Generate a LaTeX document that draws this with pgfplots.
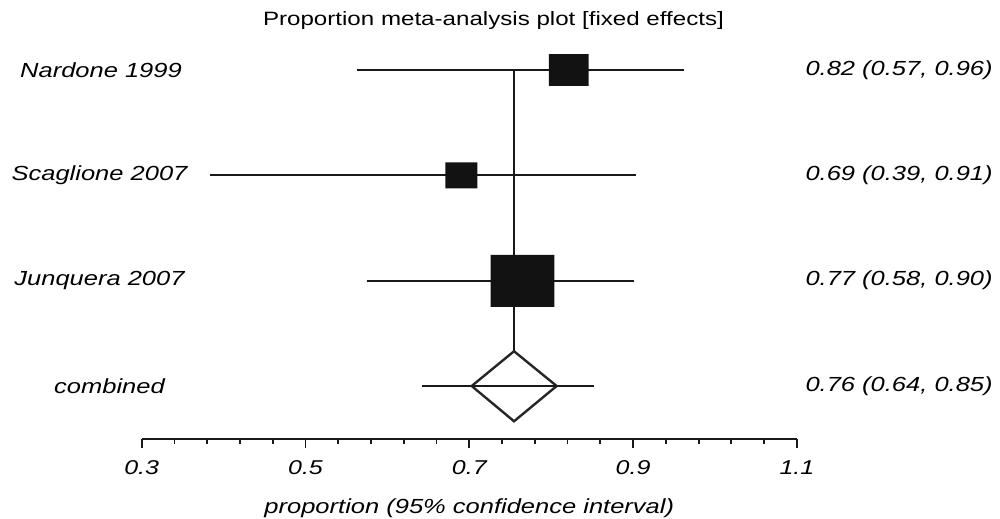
\documentclass[border=0pt]{standalone}
\usepackage{pgfplots}
\pgfplotsset{compat=1.18}
\usepackage{fontspec}
\setmainfont{Liberation Sans}[FakeStretch=1.25]
\begin{document}
\begin{tikzpicture}
\begin{axis}[
  scale only axis,
  width=327.6pt, height=210.65pt,
  xmin=0.3, xmax=1.1, ymin=0.5, ymax=4.5,
  axis x line=bottom, hide y axis,
  axis line style={-, line width=0.9pt, black!90},
  x axis line style={-},
  xtick={0.3,0.5,0.7,0.9,1.1},
  minor x tick num=4,
  tick align=outside,
  major tick length=4.5pt, minor tick length=2.5pt,
  tick style={line width=0.9pt, black!90},
  xticklabel style={font=\fontsize{10}{11}\selectfont\itshape, yshift=-2.8pt},
  /pgf/number format/assume math mode=true,
  /pgf/number format/fixed, /pgf/number format/fixed zerofill, /pgf/number format/precision=1,
  clip=false,
]
% confidence interval lines
\addplot[black!90, line width=0.95pt] coordinates {(0.5625,4) (0.9625,4)};
\addplot[black!90, line width=0.95pt] coordinates {(0.3834,3) (0.9032,3)};
\addplot[black!90, line width=0.95pt] coordinates {(0.5747,2) (0.9011,2)};
\addplot[black!90, line width=0.95pt] coordinates {(0.6419,1) (0.8523,1)};
% pooled estimate vertical line
\addplot[black!90, line width=0.95pt] coordinates {(0.7546,4) (0.7546,1.33)};
% study squares
\addplot[fill=black!93, draw=none] coordinates {(0.7972,3.8495) (0.8458,3.8495) (0.8458,4.1505) (0.7972,4.1505) (0.7972,3.8495)};
\addplot[fill=black!93, draw=none] coordinates {(0.6707,2.8765) (0.7098,2.8765) (0.7098,3.1235) (0.6707,3.1235) (0.6707,2.8765)};
\addplot[fill=black!93, draw=none] coordinates {(0.7261,1.752) (0.8038,1.752) (0.8038,2.246) (0.7261,2.246) (0.7261,1.752)};
% combined diamond
\addplot[draw=black!85, line width=1.2pt, fill=white, line join=miter] coordinates {(0.7029,1) (0.7546,1.33) (0.8067,1) (0.7546,0.665) (0.7029,1)};
\addplot[black!90, line width=0.95pt] coordinates {(0.7029,1) (0.8067,1)};
% labels
\def\lf{\fontsize{10.2}{12}\selectfont\itshape}
\node[font=\lf] at (axis cs:0.2503,4) {Nardone 1999};
\node[font=\lf] at (axis cs:0.2485,3) {Scaglione 2007};
\node[font=\lf] at (axis cs:0.2485,2) {Junquera 2007};
\node[font=\lf] at (axis cs:0.2607,1) {combined};
\node[font=\lf, anchor=east, inner sep=0pt] at (axis cs:1.3395,4) {0.82 (0.57, 0.96)};
\node[font=\lf, anchor=east, inner sep=0pt] at (axis cs:1.3395,3) {0.69 (0.39, 0.91)};
\node[font=\lf, anchor=east, inner sep=0pt] at (axis cs:1.3395,2) {0.77 (0.58, 0.90)};
\node[font=\lf, anchor=east, inner sep=0pt] at (axis cs:1.3395,1) {0.76 (0.64, 0.85)};
\node[font=\lf] at (axis cs:0.7,-0.16) {proportion (95\% confidence interval)};
\node[font=\fontsize{9.65}{11}\selectfont] at (axis cs:0.7295,4.47) {Proportion meta-analysis plot [fixed effects]};
\coordinate (bl) at (axis cs:0.12699,-0.2536);
\coordinate (tr) at (axis cs:1.34799,4.6648);
\end{axis}
\pgfresetboundingbox
\path[use as bounding box] (bl) rectangle (tr);
\end{tikzpicture}
\end{document}
